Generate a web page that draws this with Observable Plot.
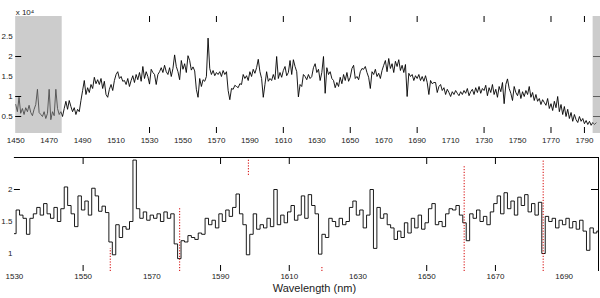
<!DOCTYPE html>
<html><head><meta charset="utf-8">
<script src="https://cdn.jsdelivr.net/npm/d3@7"></script>
<script src="https://cdn.jsdelivr.net/npm/@observablehq/plot@0.6"></script>
<style>
body{margin:0;background:#fff;width:600px;height:298px;overflow:hidden;position:relative;font-family:"Liberation Sans",Arial,sans-serif}
#top{position:absolute;left:0;top:0}
#bot{position:absolute;left:0;top:150px}
</style></head><body>
<div id="top"></div><div id="bot"></div>
<script>
// spectrum sampled every 1 nm starting at 1450 nm (flux in units of 10^4)
const wlStart = 1450;
const flux = [
  0.80,0.62,0.98,0.58,0.70,0.55,0.72,0.62,0.78,0.60,
  0.52,0.68,0.80,1.18,0.60,0.55,0.50,0.62,0.45,0.58,
  1.18,0.42,0.62,0.52,1.18,0.70,0.55,0.62,0.50,0.70,
  0.88,0.68,0.90,0.75,0.62,0.72,0.55,0.68,0.62,0.90,
  1.15,1.40,1.05,1.22,1.10,1.30,1.20,1.48,1.32,1.42,
  1.30,1.45,1.20,1.38,1.05,0.98,1.18,1.30,1.15,1.40,
  1.55,1.62,1.45,1.50,1.38,1.40,1.30,1.45,1.25,1.40,
  1.52,1.35,1.55,1.42,1.60,1.38,1.75,1.45,1.62,1.50,
  1.31,1.68,1.60,1.55,1.30,1.55,1.62,1.72,1.60,1.78,
  1.62,1.55,1.72,1.50,1.70,2.04,1.75,1.62,1.42,1.90,
  1.68,1.82,1.60,2.02,1.90,1.66,1.74,1.64,1.18,0.98,
  1.45,1.25,1.42,1.38,1.50,2.46,1.70,1.55,1.65,1.52,
  1.60,1.55,1.62,1.50,1.65,1.55,1.62,1.15,0.92,1.20,
  1.18,1.28,1.25,1.22,1.32,1.30,1.55,1.45,1.52,1.40,
  1.62,1.50,1.68,1.58,1.72,1.93,1.62,1.45,0.98,1.30,
  1.62,1.38,1.45,1.40,1.55,1.42,2.00,1.45,1.60,1.48,
  1.65,1.75,1.52,1.60,1.90,1.55,1.92,1.75,1.62,0.99,
  1.30,1.25,1.55,1.50,1.42,1.55,1.45,1.50,1.72,1.82,
  1.60,1.68,1.40,1.60,2.00,1.08,1.72,1.55,1.62,1.45,
  1.40,1.22,1.35,1.25,1.48,1.32,1.55,1.40,1.60,1.38,
  1.48,1.70,1.78,1.45,1.50,1.42,1.62,1.70,1.68,1.75,
  1.60,1.48,1.20,1.62,1.55,1.68,1.50,1.58,1.45,1.65,
  1.78,1.90,1.62,1.95,1.70,1.82,1.60,1.88,1.75,1.92,
  1.65,1.78,1.60,1.80,1.00,1.58,1.50,1.55,1.40,1.52,
  1.45,1.55,1.40,1.50,1.38,1.52,1.35,1.05,1.40,1.32,
  1.35,1.35,1.10,1.25,1.30,1.15,1.22,1.05,1.18,1.10,
  1.00,1.12,1.05,1.15,1.08,1.02,1.12,1.05,1.15,1.08,
  1.20,1.02,1.12,1.18,1.05,1.22,1.10,1.25,1.08,1.20,
  1.15,1.28,1.02,1.22,1.10,1.30,1.05,1.18,0.98,1.25,
  1.12,1.35,0.82,1.30,1.44,1.20,1.08,0.90,1.25,1.10,
  1.02,1.18,0.95,1.12,1.00,1.15,1.05,1.25,0.98,1.10,
  0.90,1.05,0.88,0.95,0.80,0.92,0.85,0.78,0.95,0.70,
  0.82,0.65,0.88,0.72,1.00,0.62,0.80,0.55,0.75,0.50,
  0.68,0.45,0.60,0.38,0.55,0.42,0.35,0.50,0.38,0.45,
  0.32,0.40,0.30,0.38,0.28,0.35,0.30,0.34
];
const wavelength = flux.map((_, i) => wlStart + i);

// top panel
const topXDomain = [1450, 1799.6];
const topYDomain = [0.075, 3];
const topXLabels = [1450,1470,1490,1510,1530,1550,1570,1590,1610,1630,1650,1670,1690,1710,1730,1750,1770,1790];
const topXTicks = [1530,1570,1610,1650,1690,1730,1770,1790];
const topYLabels = [0.5,1,1.5,2,2.5];
const topYTicks = [0.5,1,2];
const shadeStart = [1450, 1795.2];
const shadeEnd = [1477.8, 1799.6];

// bottom panel
const botXDomain = [1530, 1700];
const botYDomain = [0.719, 2.5];
const botXLabels = [1530,1550,1570,1590,1610,1630,1650,1670,1690];
const botXTicks = [1550,1590,1610,1650,1670];
const botYLabels = [1,1.5,2];
const botYTicks = [2];
const markerWl = [1557.9, 1578.1, 1598.1, 1619.5, 1660.9, 1683.9];
const markerLo = [0.719, 0.719, 2.22, 0.719, 0.719, 0.719];
const markerHi = [1.078, 1.70, 2.47, 0.80, 2.375, 2.45];

const spec = wavelength.map((w, i) => ({w, f: flux[i]}));
const shades = shadeStart.map((s, i) => ({x1: s, x2: shadeEnd[i]}));
const markers = markerWl.map((w, i) => ({w, lo: markerLo[i], hi: markerHi[i]}));
const fmt = d => String(d);
const font = {fontFamily: "'Liberation Sans', Arial, sans-serif", fontSize: "8px", color: "#222", background: "white", overflow: "visible"};

const topW = 600, topH = 150, tML = 15.2, tMR = 0, tMT = 16, tMB = 17;
const tFW = topW - tML - tMR, tFH = topH - tMT - tMB;
const topPlot = Plot.plot({
  width: topW, height: topH,
  marginLeft: tML, marginRight: tMR, marginTop: tMT, marginBottom: tMB,
  x: {domain: topXDomain},
  y: {domain: topYDomain},
  style: font,
  marks: [
    Plot.line(spec, {x: "w", y: "f", stroke: "#000", strokeWidth: 0.9, curve: "linear", clip: true}),
    Plot.tickY(topYTicks, {y: d => d, insetLeft: tFW - 7, stroke: "#222"}),
    Plot.rect(shades, {x1: "x1", x2: "x2", fill: "#999", fillOpacity: 0.5}),
    Plot.tickX(topXTicks, {x: d => d, insetBottom: tFH - 6, stroke: "#000"}),
    Plot.tickX(topXTicks, {x: d => d, insetTop: tFH - 6, stroke: "#000"}),
    Plot.tickY(topYTicks, {y: d => d, insetRight: tFW - 6, stroke: "#000"}),
    Plot.axisX({ticks: topXLabels, tickSize: 0, tickPadding: 4, tickFormat: fmt, anchor: "bottom", label: null}),
    Plot.axisY({ticks: topYLabels, tickSize: 0, tickPadding: 3, tickFormat: fmt, anchor: "left", label: null}),
    Plot.text(["x 10\u2074"], {frameAnchor: "top-left", dy: -7, textAnchor: "start", fontSize: 8, fill: "#222"})
  ]
});
document.getElementById("top").appendChild(topPlot);

const botW = 600, botH = 148, bML = 13.9, bMR = 2, bMT = 7, bMB = 27;
const bFW = botW - bML - bMR, bFH = botH - bMT - bMB;
const botPlot = Plot.plot({
  width: botW, height: botH,
  marginLeft: bML, marginRight: bMR, marginTop: bMT, marginBottom: bMB,
  x: {domain: botXDomain},
  y: {domain: botYDomain},
  style: font,
  marks: [
    Plot.line(spec.filter(d => d.w >= botXDomain[0] && d.w <= botXDomain[1]), {x: "w", y: "f", stroke: "#000", strokeWidth: 0.9, curve: "step", clip: true}),
    Plot.ruleX(markers, {x: "w", y1: "lo", y2: "hi", stroke: "#d40000", strokeWidth: 1, strokeDasharray: "1.2,1.6"}),
    Plot.ruleY([botYDomain[1]], {stroke: "#000"}),
    Plot.ruleX([botXDomain[1]], {stroke: "#000"}),
    Plot.tickX(botXTicks, {x: d => d, insetBottom: bFH - 7, stroke: "#000"}),
    Plot.tickX(botXTicks, {x: d => d, insetTop: bFH - 6, stroke: "#000"}),
    Plot.tickY(botYTicks, {y: d => d, insetRight: bFW - 6, stroke: "#000"}),
    Plot.tickY(botYTicks, {y: d => d, insetLeft: bFW - 7, stroke: "#000"}),
    Plot.axisX({ticks: botXLabels, tickSize: 0, tickPadding: 2, tickFormat: fmt, anchor: "bottom", label: null}),
    Plot.axisY({ticks: botYLabels, tickSize: 0, tickPadding: 2, tickFormat: fmt, anchor: "left", label: null}),
    Plot.text(["Wavelength (nm)"], {frameAnchor: "bottom", dx: 8, dy: 20, fontSize: 11, fill: "#222"})
  ]
});
document.getElementById("bot").appendChild(botPlot);
</script>
</body></html>
